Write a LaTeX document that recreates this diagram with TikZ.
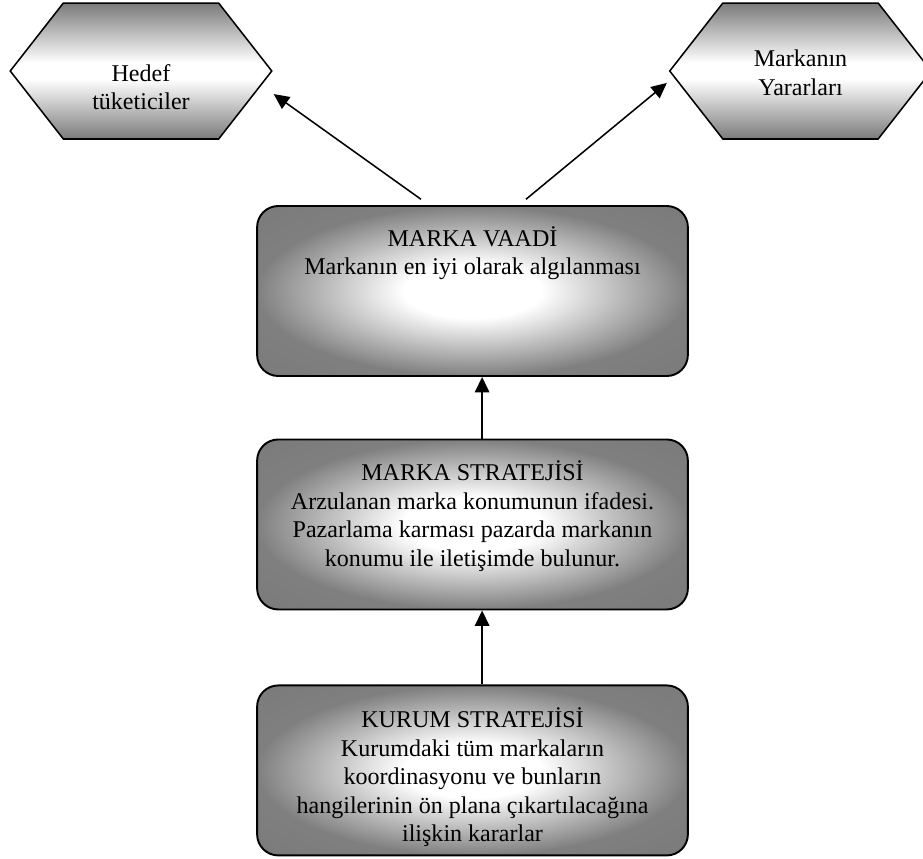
\documentclass[tikz,border=0pt]{standalone}
\usepackage{fontspec}
\setmainfont{Liberation Serif}
\usetikzlibrary{positioning, arrows.meta, shapes.symbols}

\pgfdeclareradialshading{boxglow}{\pgfpoint{0bp}{0bp}}{color(0bp)=(white); color(8bp)=(white); color(25bp)=(black!50); color(50bp)=(black!55)}
\pgfdeclareverticalshading{hexglow}{100bp}{color(0bp)=(black!52); color(25bp)=(black!52); color(47bp)=(white); color(53bp)=(white); color(75bp)=(black!52); color(100bp)=(black!52)}

\begin{document}
\begin{tikzpicture}[x=0.52pt, y=-0.52pt,
    stratbox/.style={draw, line width=1pt, rounded corners=11pt, shading=boxglow,
                     minimum width=224pt, minimum height=88.4pt, inner sep=0pt},
    boxtext/.style={align=center, inner sep=0pt, font=\fontsize{12.5}{14.8}\selectfont},
    hexa/.style={draw, line width=0.8pt, signal, signal to=west and east,
                 signal pointer angle=104, shading=hexglow,
                 minimum width=136pt, minimum height=70.7pt, inner sep=0pt},
    arrow/.style={-{Triangle[length=8pt, width=7.5pt]}, line width=0.8pt}]
  \useasboundingbox (0,0) rectangle (923,858);

  \node[stratbox] (vaat) at (472.5,291) {};
  \node[stratbox, below=32pt of vaat] (konum) {};
  \node[stratbox, below=38.5pt of konum] (kurum) {};
  \node[boxtext, below=11pt of vaat.north] (vaattxt) {MARKA VAADİ\\Markanın en iyi olarak algılanması};
  \node[boxtext, below=11.5pt of konum.north] (konumtxt) {MARKA STRATEJİSİ\\Arzulanan marka konumunun ifadesi.\\Pazarlama karması pazarda markanın\\konumu ile iletişimde bulunur.};
  \node[boxtext, below=12pt of kurum.north] (kurumtxt) {KURUM STRATEJİSİ\\Kurumdaki tüm markaların\\koordinasyonu ve bunların\\hangilerinin ön plana çıkartılacağına\\ilişkin kararlar};

  \node[hexa] (hedef) at (141,71) {};
  \node[hexa] (yarar) at (800.5,71) {};
  \node[boxtext] (hedeftxt) at ([yshift=-8.5pt]hedef.center) {Hedef\\tüketiciler};
  \node[boxtext] (yarartxt) at ([yshift=-1pt]yarar.center) {Markanın\\Yararları};

  \draw[arrow] ([xshift=5pt]kurum.north) -- ([xshift=5pt]konum.south);
  \draw[arrow] ([xshift=5pt]konum.north) -- ([xshift=5pt]vaat.south);
  \draw[arrow] ([shift={(-26.8pt,3pt)}]vaat.north) -- ([shift={(0.5pt,-12pt)}]hedef.east);
  \draw[arrow] ([shift={(27.8pt,3pt)}]vaat.north) -- ([shift={(-1pt,-6.2pt)}]yarar.west);
\end{tikzpicture}
\end{document}
